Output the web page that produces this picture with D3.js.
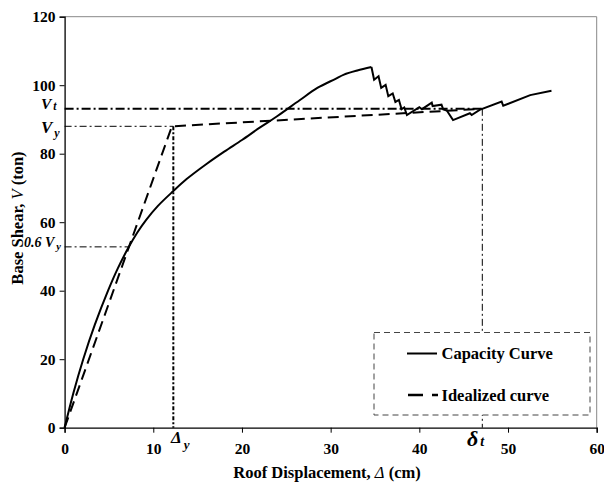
<!DOCTYPE html>
<html>
<head>
<meta charset="utf-8">
<script src="https://cdn.jsdelivr.net/npm/d3@7"></script>
<style>
  html, body { margin: 0; padding: 0; background: #fff; }
  svg { display: block; font-family: "Liberation Serif", "Times New Roman", serif; }
</style>
</head>
<body>
<svg id="chart" width="604" height="483"></svg>
<script>
// Pushover capacity curve: roof displacement (cm) vs base shear (ton)
const capDisp = [0, 1.0, 2.1, 3.4, 4.9, 6.0, 7.2, 8.2, 9.2, 10.5, 12.26, 13.76, 16, 18, 20, 22, 24, 26.5, 28.5, 30.5, 31.5, 33, 34.6,
  34.9, 35.4, 35.7, 36.2, 36.5, 37.0, 37.3, 37.7, 38.0, 38.3, 38.6,
  40.0, 40.3, 41.4, 41.5, 42.5, 42.7, 43.1, 43.3, 43.8, 45.7, 45.9, 46.8, 49.28, 49.46, 52.5, 54.9];
const capShear = [0, 10.2, 20, 30, 40, 46.5, 52.6, 57.0, 60.7, 64.7, 69.1, 72.6, 77.0, 80.6, 84, 87.6, 91.0, 95.6, 99.2, 101.8, 103.1, 104.3, 105.3,
  101.6, 102.6, 99.2, 100.1, 96.8, 97.6, 95.1, 95.7, 93.0, 93.5, 91.3,
  93.6, 93.0, 94.9, 93.9, 94.3, 92.9, 92.6, 91.8, 89.8, 91.8, 91.3, 92.8, 95.2, 94.0, 97.1, 98.4];
// index of the peak: smooth pre-peak branch, stepwise softening after it
const peakIndex = 22;

// Bilinear idealization
const idealDisp = [0, 12.1, 47.0];
const idealShear = [0, 88.0, 93.1];

// Reference levels
const Vy = 88.0, Vt = 93.1, deltaY = 12.26, deltaT = 47.1;

const xTicks = [0, 10, 20, 30, 40, 50, 60];
const yTicks = [0, 20, 40, 60, 80, 100, 120];

const svg = d3.select("#chart");
const margin = { left: 64.6, right: 7.3, top: 16.7, bottom: 55.3 };
const W = 604, H = 483;

const x = d3.scaleLinear().domain([0, 60]).range([margin.left, W - margin.right]);
const y = d3.scaleLinear().domain([0, 120]).range([H - margin.bottom, margin.top]);

// Frame: light top/right border
svg.append("path")
  .attr("d", `M${x(0)},${y(120)}H${x(60)}V${y(0)}`)
  .attr("fill", "none").attr("stroke", "#888").attr("stroke-width", 1);

// Axes
const xAxis = d3.axisBottom(x).tickValues(xTicks).tickSize(5).tickFormat(d3.format("d"));
const yAxis = d3.axisLeft(y).tickValues(yTicks).tickSize(5).tickFormat(d3.format("d"));

const gx = svg.append("g").attr("transform", `translate(0,${y(0)})`).call(xAxis);
const gy = svg.append("g").attr("transform", `translate(${x(0)},0)`).call(yAxis);
[gx, gy].forEach(g => {
  g.select(".domain").attr("stroke", "#000").attr("stroke-width", 1.3);
  g.selectAll(".tick line").attr("stroke", "#000").attr("stroke-width", 1);
  g.selectAll(".tick text").attr("font-family", "Liberation Serif").attr("font-weight", "bold")
    .attr("font-size", 15.5).attr("fill", "#000");
});
gx.selectAll(".tick text").attr("y", 8).attr("dy", "1.15em");
gy.selectAll(".tick text").attr("x", -9).attr("dy", "0.34em");

// Reference lines
const ref = svg.append("g").attr("fill", "none").attr("stroke", "#000");
ref.append("line") // Vt
  .attr("x1", x(0)).attr("x2", x(deltaT)).attr("y1", y(Vt)).attr("y2", y(Vt))
  .attr("stroke-width", 2).attr("stroke-dasharray", "9,3,2,3");
ref.append("line") // Vy
  .attr("x1", x(0)).attr("x2", x(deltaY)).attr("y1", y(Vy)).attr("y2", y(Vy))
  .attr("stroke-width", 1).attr("stroke-dasharray", "7,3,2,3");
ref.append("line") // 0.6 Vy
  .attr("x1", x(0)).attr("x2", x(12.1 * 0.6)).attr("y1", y(0.6 * Vy)).attr("y2", y(0.6 * Vy))
  .attr("stroke-width", 1).attr("stroke-dasharray", "7,3,2,3");
ref.append("line") // delta y
  .attr("x1", x(deltaY)).attr("x2", x(deltaY)).attr("y1", y(Vy)).attr("y2", y(0))
  .attr("stroke-width", 2).attr("stroke-dasharray", "4,2,2,2");
ref.append("line") // delta t
  .attr("x1", x(deltaT)).attr("x2", x(deltaT)).attr("y1", y(Vt)).attr("y2", y(0))
  .attr("stroke-width", 1).attr("stroke-dasharray", "7,3,2,3");

// Curves
const capPts = capDisp.map((d, i) => [d, capShear[i]]);
const smoothLine = d3.line().x(d => x(d[0])).y(d => y(d[1])).curve(d3.curveCatmullRom.alpha(0.5));
const stepLine = d3.line().x(d => x(d[0])).y(d => y(d[1]));

svg.append("path")
  .datum(idealDisp.map((d, i) => [d, idealShear[i]]))
  .attr("d", stepLine).attr("fill", "none").attr("stroke", "#000")
  .attr("stroke-width", 2).attr("stroke-dasharray", "11,6");
const cap = svg.append("g").attr("fill", "none").attr("stroke", "#000").attr("stroke-width", 2);
cap.append("path").datum(capPts.slice(0, peakIndex + 1)).attr("d", smoothLine);
cap.append("path").datum(capPts.slice(peakIndex)).attr("d", stepLine).attr("stroke-linejoin", "miter");

// Legend
const lg = svg.append("g");
lg.append("rect").attr("x", 374).attr("y", 332.5).attr("width", 216).attr("height", 82.5)
  .attr("fill", "#fff").attr("stroke", "#444").attr("stroke-width", 1).attr("stroke-dasharray", "6,4");
lg.append("line").attr("x1", 407).attr("x2", 437).attr("y1", 353.5).attr("y2", 353.5)
  .attr("stroke", "#000").attr("stroke-width", 2);
lg.append("line").attr("x1", 408).attr("x2", 438).attr("y1", 395).attr("y2", 395)
  .attr("stroke", "#000").attr("stroke-width", 2.5).attr("stroke-dasharray", "15,9");
lg.append("text").attr("x", 441.5).attr("y", 359).text("Capacity Curve")
  .attr("font-weight", "bold").attr("font-size", 16.5);
lg.append("text").attr("x", 441.5).attr("y", 400.5).text("Idealized curve")
  .attr("font-weight", "bold").attr("font-size", 16.5);

// Axis titles
svg.append("text")
  .attr("x", 327).attr("y", 478).attr("text-anchor", "middle")
  .attr("font-weight", "bold").attr("font-size", 16.5)
  .call(t => {
    t.append("tspan").text("Roof Displacement, ");
    t.append("tspan").attr("font-style", "italic").attr("font-weight", "normal").text("Δ");
    t.append("tspan").text("  (cm)");
  });
svg.append("text")
  .attr("transform", `translate(23,218) rotate(-90)`)
  .attr("text-anchor", "middle")
  .attr("font-weight", "bold").attr("font-size", 16.5)
  .call(t => {
    t.append("tspan").text("Base Shear, ");
    t.append("tspan").attr("font-style", "italic").attr("font-weight", "normal").text("V");
    t.append("tspan").text(" (ton)");
  });

// Level annotations
const ann = svg.append("g").attr("font-style", "italic").attr("font-weight", "bold").attr("fill", "#000");
function sub(g, xx, yy, main, subTxt, size, subSize, subDy) {
  const t = g.append("text").attr("x", xx).attr("y", yy).attr("font-size", size);
  t.append("tspan").text(main);
  t.append("tspan").attr("font-size", subSize).attr("dx", 2).attr("dy", subDy).text(subTxt);
  return t;
}
sub(ann, 41, 108.5, "V", "t", 15.5, 11.5, 1);
sub(ann, 41, 133, "V", "y", 17, 12, 4);
sub(ann, 24, 247, "0.6 V", "y", 14, 10.5, 3);
sub(ann, 171, 443, "Δ", "y", 17, 13, 6);
sub(ann, 467, 446, "δ", "t", 22, 14, 0);
</script>
</body>
</html>
